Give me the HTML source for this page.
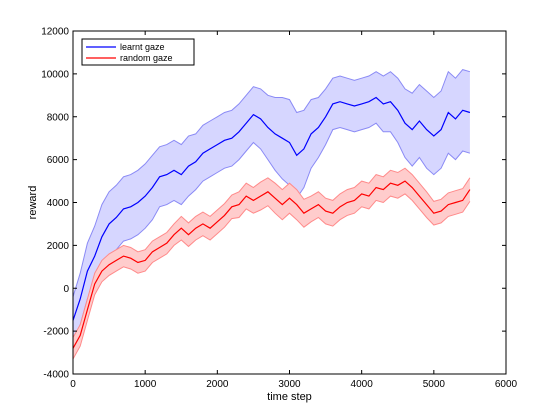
<!DOCTYPE html>
<html><head><meta charset="utf-8"><style>
body{margin:0;background:#fff}
svg{display:block;font-family:"Liberation Sans",sans-serif}
</style></head><body>
<svg id="c" width="560" height="420"></svg>
<script>
const steps=[0,100,200,300,400,500,600,700,800,900,1000,1100,1200,1300,1400,1500,1600,1700,1800,1900,2000,2100,2200,2300,2400,2500,2600,2700,2800,2900,3000,3100,3200,3300,3400,3500,3600,3700,3800,3900,4000,4100,4200,4300,4400,4500,4600,4700,4800,4900,5000,5100,5200,5300,5400,5500];
const learntMean=[-1500,-500,800,1500,2400,3000,3300,3700,3800,4000,4300,4700,5200,5300,5500,5300,5700,5900,6300,6500,6700,6900,7000,7300,7700,8100,7900,7500,7200,7000,6800,6200,6500,7200,7500,8000,8600,8700,8600,8500,8600,8700,8900,8600,8700,8300,7700,7400,7800,7400,7100,7400,8200,7900,8300,8200];
const learntHalf=[1100,1200,1300,1400,1500,1500,1500,1500,1500,1500,1500,1500,1400,1400,1400,1400,1400,1300,1300,1300,1300,1300,1300,1300,1300,1300,1400,1500,1700,1900,2000,2000,1800,1600,1400,1300,1200,1200,1200,1200,1200,1200,1200,1300,1400,1500,1600,1700,1700,1800,1800,1800,1900,1900,1900,1900];
const randomMean=[-2800,-2200,-1000,200,800,1100,1300,1500,1400,1200,1300,1700,1900,2100,2500,2800,2500,2800,3000,2800,3100,3400,3800,3900,4300,4100,4300,4500,4200,3900,4200,3900,3500,3700,3900,3600,3500,3800,4000,4100,4400,4300,4700,4600,4900,4800,5000,4700,4300,3900,3500,3600,3900,4000,4100,4600];
const randomHalf=[500,500,500,500,500,500,500,500,500,500,500,500,500,500,500,550,550,550,550,550,550,550,550,600,600,600,650,650,700,700,700,700,650,600,600,600,600,600,600,600,600,600,600,600,600,600,600,600,600,600,550,550,550,550,550,550];
const xTicks=[0,1000,2000,3000,4000,5000,6000];
const yTicks=[-4000,-2000,0,2000,4000,6000,8000,10000,12000];
const L=73,R=506,T=31,B=374;
const X=v=>L+(v-0)/6000*(R-L);
const Y=v=>B-(v+4000)/16000*(B-T);
const svg=document.getElementById('c');
const NS='http://www.w3.org/2000/svg';
function mk(tag,attrs,parent){const e=document.createElementNS(NS,tag);for(const k in attrs)e.setAttribute(k,attrs[k]);(parent||svg).appendChild(e);return e;}
function band(mean,half,fill,edge,line,name){
  const up=steps.map((s,i)=>X(s).toFixed(1)+','+Y(mean[i]+half[i]).toFixed(1));
  const lo=steps.map((s,i)=>X(s).toFixed(1)+','+Y(mean[i]-half[i]).toFixed(1));
  const p=mk('polygon',{points:up.concat(lo.slice().reverse()).join(' '),fill:fill,stroke:'none'});
  
  
  const u=mk('polyline',{points:up.join(' '),fill:'none',stroke:edge,'stroke-width':1});
  
  
  const l=mk('polyline',{points:lo.join(' '),fill:'none',stroke:edge,'stroke-width':1});
  
  
  return steps.map((s,i)=>X(s).toFixed(1)+','+Y(mean[i]).toFixed(1)).join(' ');
}
const bl=band(learntMean,learntHalf,'#d6d6ff','#8a8af5','learnt');
const rl=band(randomMean,randomHalf,'#ffcccc','#ff8a8a','random');
const m1=mk('polyline',{points:bl,fill:'none',stroke:'#0000ff','stroke-width':1.2});


const m2=mk('polyline',{points:rl,fill:'none',stroke:'#ff0000','stroke-width':1.2});


const box=mk('rect',{x:L,y:T,width:R-L,height:B-T,fill:'none',stroke:'#000','stroke-width':1});


xTicks.forEach(t=>{
  mk('line',{x1:X(t),x2:X(t),y1:B,y2:B-4,stroke:'#000'});
  mk('line',{x1:X(t),x2:X(t),y1:T,y2:T+4,stroke:'#000'});
  const tx=mk('text',{x:X(t),y:B+13,'font-size':10,'text-anchor':'middle'});tx.textContent=t;
  
  
});
yTicks.forEach(t=>{
  mk('line',{x1:L,x2:L+4,y1:Y(t),y2:Y(t),stroke:'#000'});
  mk('line',{x1:R,x2:R-4,y1:Y(t),y2:Y(t),stroke:'#000'});
  const tx=mk('text',{x:L-4,y:Y(t)+3.5,'font-size':10,'text-anchor':'end'});tx.textContent=t;
  
  
});
const xl=mk('text',{x:(L+R)/2,y:400,'font-size':11,'text-anchor':'middle'});xl.textContent='time step';


const yl=mk('text',{x:0,y:0,'font-size':11,'text-anchor':'middle',transform:'translate(36,'+((T+B)/2)+') rotate(-90)'});yl.textContent='reward';


const lg=mk('g',{});


mk('rect',{x:82,y:39,width:112,height:26,fill:'#fff',stroke:'#000','stroke-width':1},lg);
mk('line',{x1:86,x2:116,y1:47,y2:47,stroke:'#0000ff','stroke-width':1.2},lg);
mk('line',{x1:86,x2:116,y1:58,y2:58,stroke:'#ff0000','stroke-width':1.2},lg);
const t1=mk('text',{x:120,y:50,'font-size':9},lg);t1.textContent='learnt gaze';


const t2=mk('text',{x:120,y:61,'font-size':9},lg);t2.textContent='random gaze';


</script>
</body></html>
